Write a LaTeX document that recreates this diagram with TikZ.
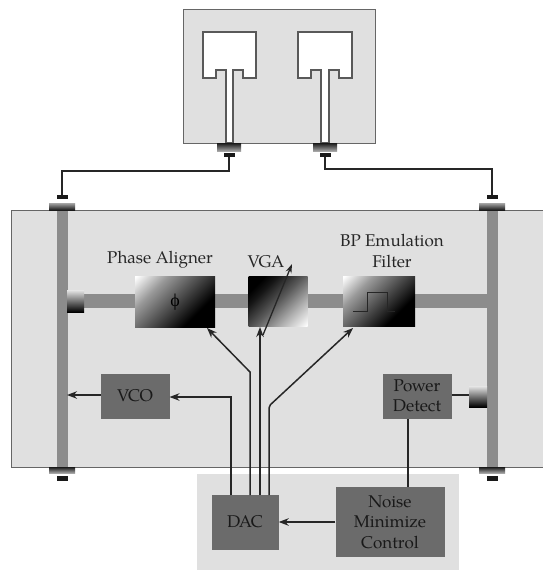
\documentclass[tikz,border=0pt]{standalone}
\usepackage{fontspec}
\setmainfont{TeX Gyre Pagella}[Ligatures=TeX]
\newfontfamily\phifont{Liberation Serif}
\usetikzlibrary{arrows.meta,positioning}
\definecolor{panel}{gray}{0.88}
\definecolor{blockg}{gray}{0.42}
\definecolor{rail}{gray}{0.55}
\definecolor{wire}{gray}{0.15}
\pgfdeclareverticalshading{gwhite}{100bp}{color(0bp)=(black); color(32bp)=(black); color(50bp)=(black!70); color(68bp)=(black!40); color(85bp)=(white); color(100bp)=(white)}
\pgfdeclareverticalshading{gblack}{100bp}{color(0bp)=(white); color(15bp)=(white); color(32bp)=(black!30); color(50bp)=(black!65); color(67bp)=(black!92); color(75bp)=(black); color(100bp)=(black)}
\tikzset{
 x=1pt,y=-1pt,
 blockn/.style={fill=blockg,draw=none,inner sep=0pt,align=center,font=\fontsize{17}{20.5}\selectfont,text=black!90},
 lab/.style={inner sep=0pt,align=center,font=\fontsize{17}{20.5}\selectfont,text=black!85},
 sig/.style={draw=wire,line width=1.5pt},
 arr/.style={sig,-{Stealth[length=10pt,width=7.5pt]}},
 railb/.style={fill=rail,draw=none},
 cap1/.style={fill=black!90,draw=none},
 capt/.style={top color=black!35,bottom color=black!90,draw=none},
 capb/.style={top color=black!90,bottom color=black!35,draw=none},
 pan/.style={fill=panel,draw=black!60,line width=.8pt},
 ant/.style={fill=white,draw=black!65,line width=1.1pt},
 coup/.style={top color=black!10,middle color=black!55,bottom color=black,draw=none},
 gradw/.style={shading=gwhite,shading angle=45},
 gradb/.style={shading=gblack,shading angle=45},
}
\begin{document}
\begin{tikzpicture}
\useasboundingbox (0,0) rectangle (543,570);
\fill[white] (0,0) rectangle (543,570);
% antenna panel
\draw[pan] (183,9) rectangle (375,143);
\path[ant] (203,32) -- (256,32) -- (256,78) -- (243,78) -- (243,70) -- (233,70) -- (233,143) -- (226,143) -- (226,70) -- (216,70) -- (216,78) -- (203,78) -- cycle;
\path[ant] (298,32) -- (352,32) -- (352,78) -- (339,78) -- (339,70) -- (329,70) -- (329,143) -- (321,143) -- (321,70) -- (311,70) -- (311,78) -- (298,78) -- cycle;
% main panel
\draw[pan] (11,210) rectangle (543,467);
% bottom panel
\fill[panel] (197,474) rectangle (459,570);
% rails
\fill[railb] (57,210) rectangle (68,467);
\fill[railb] (487,210) rectangle (498,467);
\fill[railb] (84,294) rectangle (487,308);
% connectors
\fill[capb] (217,143) rectangle (241,151);
\fill[cap1] (224,153) rectangle (235,157);
\fill[capb] (313,143) rectangle (337,151);
\fill[cap1] (320,153) rectangle (331,157);
\fill[capt] (49,203) rectangle (75,210);
\fill[cap1] (57,195) rectangle (68,199);
\fill[capt] (479,203) rectangle (505,210);
\fill[cap1] (487,195) rectangle (498,199);
\fill[capb] (49,467) rectangle (75,473);
\fill[cap1] (57,476) rectangle (68,481);
\fill[capb] (479,467) rectangle (505,473);
\fill[cap1] (487,476) rectangle (498,481);
\coordinate (la) at (229,157);
\coordinate (lb) at (62,195);
\coordinate (ra) at (325,157);
\coordinate (rb) at (492,195);
\draw[sig,line width=1.5pt] (la) -- (229,171) -- (62,171) -- (lb);
\draw[sig,line width=1.3pt] (ra) -- (325,169) -- (492,169) -- (rb);
% couplers
\shade[coup] (67,290) rectangle (84,312);
\shade[coup] (469,386) rectangle (487,407);
% gradient blocks
\node[inner sep=0pt,minimum width=80pt,minimum height=51pt,gradw] (pa) at (175,302) {};
\node[inner sep=0pt] at (pa) {\phifont\fontsize{18}{18}\selectfont ϕ};
\node[inner sep=0pt,minimum width=59pt,minimum height=50pt,gradb] (vga) at (278,301.5) {};
\node[inner sep=0pt,minimum width=72pt,minimum height=50pt,gradw] (bp) at (379,301.5) {};
\draw[black!85,line width=1pt] (353,311) -- (367,311) -- (367,292) -- (387,292) -- (387,311) -- (395,311);
% labels
\node[lab] (t1) at (160,260) {Phase Aligner};
\node[lab] (t2) at (266,262) {VGA};
\node[lab] (t3) at (392,251) {BP Emulation\\Filter};
% blocks
\node[blockn,minimum width=69pt,minimum height=45pt] (vco) at (135,396) {VCO};
\node[blockn,minimum width=69pt,minimum height=45pt] (pd) at (417,396) {Power\\Detect};
\node[blockn,minimum width=67pt,minimum height=55pt] (dac) at (245,522) {DAC};
\node[blockn,minimum width=109pt,minimum height=70pt] (nm) at (390,522) {Noise\\Minimize\\Control};
% signal lines
\coordinate (d1) at (231,495);
\coordinate (d2) at (250,495);
\coordinate (d3) at (260,495);
\coordinate (d4) at (269,495);
\coordinate (vgab) at (263,335);
\coordinate (vgat) at (292,264);
\draw[arr] (d2) -- (250,372) -- (207,328);
\draw[arr] (d3) -- (260,327);
\draw[arr,rounded corners=2pt] (d4) -- (269,406) -- (353,328);
\draw[arr] (d1) -- (231,397) -- (169.5,397);
\draw[arr] (100.5,395) -- (67,395);
\draw[sig] (451.5,395) -- (469,395);
\draw[sig] (408,418.5) -- (408,487);
\draw[arr] (nm.west) -- (dac.east);
\draw[sig,line width=1.3pt,-{Stealth[length=9pt,width=6pt]}] (vgab) -- (vgat);
\end{tikzpicture}
\end{document}
